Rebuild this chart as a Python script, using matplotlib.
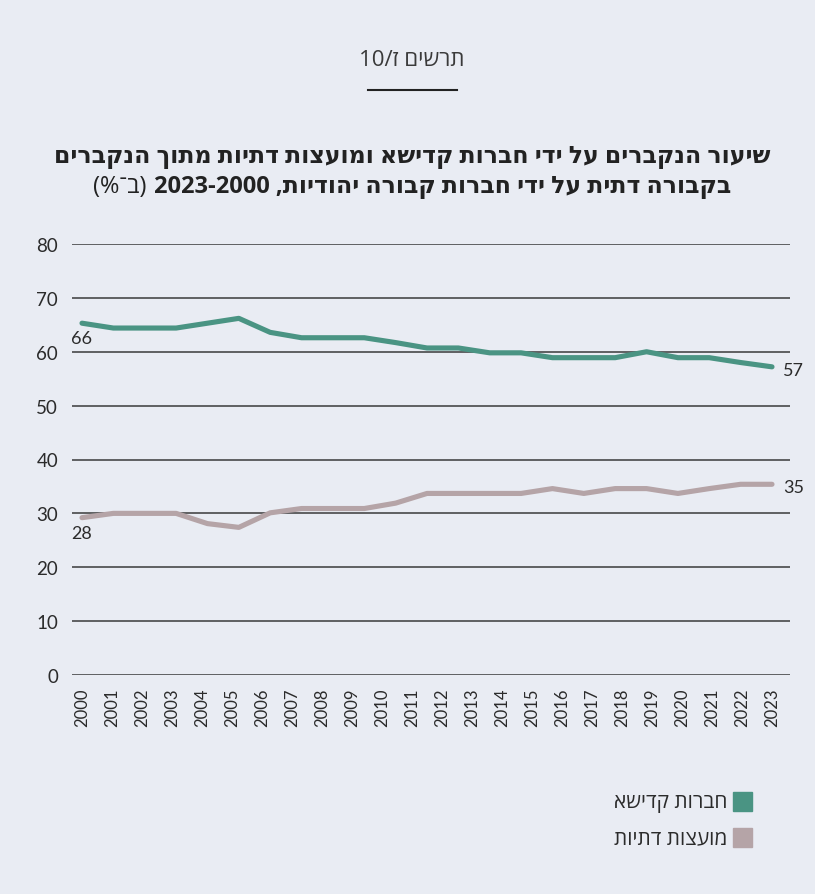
import re
import numpy as np
import matplotlib.pyplot as plt
from matplotlib.patches import Rectangle

# -----------------------------
# Data
# -----------------------------
years = list(range(2000, 2024))

# the chart draws 23 points spread over the 24 year ticks
kadisha = [65.3, 64.4, 64.4, 64.4, 65.3, 66.2, 63.6, 62.6, 62.6, 62.6, 61.7, 60.7,
           60.7, 59.8, 59.8, 58.9, 58.9, 58.9, 60.0, 58.9, 58.9, 58.0, 57.2]
councils = [29.2, 30.0, 30.0, 30.0, 28.1, 27.4, 30.1, 30.9, 30.9, 30.9, 31.9, 33.7,
            33.7, 33.7, 33.7, 34.6, 33.7, 34.6, 34.6, 33.7, 34.6, 35.4, 35.4]

start_labels = ["66", "28"]
end_labels = ["57", "35"]

series_names = ["חברות קדישא", "מועצות דתיות"]
chart_number = "תרשים ז/10"
title_line1 = "שיעור הנקברים על ידי חברות קדישא ומועצות דתיות מתוך הנקברים"
title_line2 = "בקבורה דתית על ידי חברות קבורה יהודיות, 2000-2023"
title_unit = "(ב־%)"

green = "#4a9483"
mauve = "#b5a4a7"
bg = "#e9ecf3"
text_col = "#2b2b2b"

HEB = ["Open Sans", "DejaVu Sans"]
NUM = ["Lato", "DejaVu Sans"]


def rtl(s):
    # crude visual ordering for Hebrew: reverse, keep digit runs LTR, mirror brackets
    r = s[::-1]
    r = re.sub(r"[0-9]+", lambda m: m.group(0)[::-1], r)
    return r.translate(str.maketrans("()", ")("))


fig = plt.figure(figsize=(8.15, 8.95), dpi=100)
fig.patch.set_facecolor(bg)
W, H = 815, 895

ax = fig.add_axes([72 / W, (H - 676) / H, (790 - 72) / W, (676 - 245) / H])
ax.set_facecolor(bg)

x = np.linspace(years[0], years[-1], len(kadisha))
ax.plot(x, kadisha, color=green, lw=3.7, solid_capstyle="round", zorder=3)
ax.plot(x, councils, color=mauve, lw=3.7, solid_capstyle="round", zorder=3)

# value labels at both ends
for vals, lab in zip([kadisha, councils], start_labels):
    ax.annotate(lab, (x[0], vals[0]), xytext=(0, -15), textcoords="offset pixels",
                ha="center", va="center", fontsize=13, color=text_col, family=NUM)
for vals, lab in zip([kadisha, councils], end_labels):
    ax.annotate(lab, (x[-1], vals[-1]), xytext=(11, -3), textcoords="offset pixels",
                ha="left", va="center", fontsize=13, color=text_col, family=NUM)

ax.set_xlim(years[0] - 10 / 30, years[-1] + 18 / 30)
ax.set_ylim(0, 80)
ax.set_yticks(range(0, 81, 10))
ax.set_xticks(years)
ax.set_xticklabels([str(y) for y in years], rotation=90, fontsize=12, family=NUM,
                   color=text_col)
ax.tick_params(axis="both", length=0)
ax.tick_params(axis="y", pad=10, labelsize=13.5, labelcolor=text_col)
ax.tick_params(axis="x", pad=9)
for t in ax.get_yticklabels():
    t.set_family(NUM)
ax.grid(axis="y", color="#3a3a3a", lw=1.1)
ax.set_axisbelow(True)
for s in ax.spines.values():
    s.set_visible(False)

# -----------------------------
# Titles
# -----------------------------
fig.text(412 / W, 1 - 60 / H, rtl(chart_number), ha="center", va="center",
         fontsize=16, color="#3a3a3a", family=HEB)
fig.add_artist(plt.Line2D([368 / W, 457 / W], [1 - 91 / H, 1 - 91 / H],
                          color="#222222", lw=1.5))

fig.text(412 / W, 1 - 157 / H, rtl(title_line1), ha="center", va="center",
         fontsize=17, fontweight="bold", color="#222222", family=HEB)

t_bold = fig.text(0, 1 - 187 / H, rtl(title_line2), ha="left", va="center",
                  fontsize=17, fontweight="bold", color="#222222", family=HEB)
t_unit = fig.text(0, 1 - 187 / H, rtl(title_unit), ha="left", va="center",
                  fontsize=17, color="#222222", family=HEB)
fig.canvas.draw()
r = fig.canvas.get_renderer()
wb = t_bold.get_window_extent(r).width
wu = t_unit.get_window_extent(r).width
gap = 7
x0 = 412 - (wb + wu + gap) / 2
t_unit.set_x(x0 / W)
t_bold.set_x((x0 + wu + gap) / W)

# -----------------------------
# Legend
# -----------------------------
for i, (name, col) in enumerate(zip(series_names, [green, mauve])):
    top = 793 + i * 36
    fig.add_artist(Rectangle((733 / W, 1 - (top + 19) / H), 19 / W, 19 / H,
                             transform=fig.transFigure, color=col))
    fig.text(727 / W, 1 - (top + 9.5) / H, rtl(name), ha="right", va="center",
             fontsize=15, color=text_col, family=HEB)

plt.savefig("out.png", dpi=100, facecolor=bg)
